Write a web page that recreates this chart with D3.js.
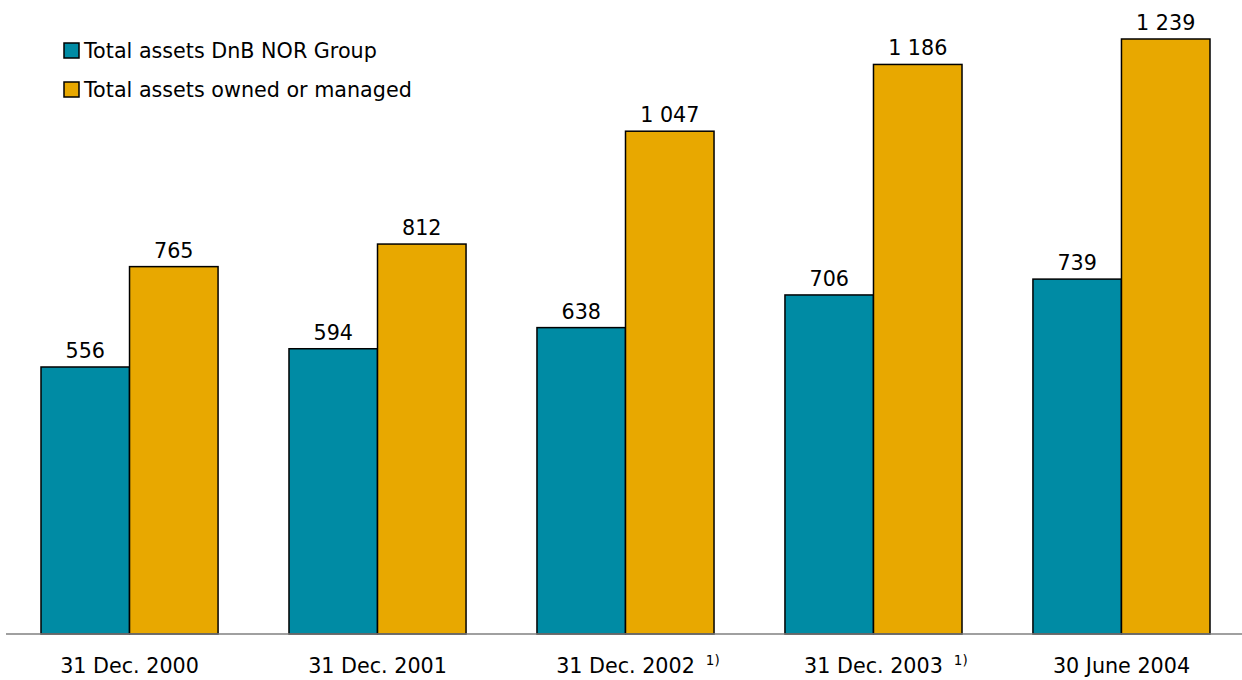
<!DOCTYPE html>
<html><head><meta charset="utf-8">
<script src="https://cdn.jsdelivr.net/npm/d3@7"></script>
<style>body{margin:0;background:#fff}svg{display:block}text{font-family:"DejaVu Sans",Verdana,sans-serif;fill:#000}</style>
</head><body>
<svg id="c" width="1242" height="680"></svg>
<script>
const categories = ["31 Dec. 2000","31 Dec. 2001","31 Dec. 2002","31 Dec. 2003","30 June 2004"];
const footnotes = ["","","1)","1)",""];
const seriesNames = ["Total assets DnB NOR Group","Total assets owned or managed"];
const groupAssets = [556,594,638,706,739];
const managedAssets = [765,812,1047,1186,1239];
const colors = ["#008BA4","#E8A800"];
const fmt = v => { const s = String(v); return s.length > 3 ? s.slice(0, s.length-3) + " " + s.slice(-3) : s; };

const svg = d3.select("#c");
const x = d3.scaleBand().domain(categories).range([41,1210]).paddingInner(0.286).paddingOuter(0);
const xs = d3.scaleBand().domain([0,1]).range([0, x.bandwidth()]);
const y = d3.scaleLinear().domain([0,1239]).range([634,39]);
const series = [groupAssets, managedAssets];
const FS = 20.7;

series.forEach((vals, si) => {
  const g = svg.append("g");
  g.selectAll("rect").data(vals).join("rect")
    .attr("x", (d,i) => x(categories[i]) + xs(si))
    .attr("y", d => y(d))
    .attr("width", xs.bandwidth())
    .attr("height", d => y(0) - y(d))
    .attr("fill", colors[si]).attr("stroke", "#000").attr("stroke-width", 1.5);
  g.selectAll("text").data(vals).join("text")
    .attr("x", (d,i) => x(categories[i]) + xs(si) + xs.bandwidth()/2)
    .attr("y", d => y(d) - 9)
    .attr("text-anchor","middle").attr("font-size", FS)
    .text(d => fmt(d));
});

// baseline
svg.append("line").attr("x1",6).attr("x2",1242).attr("y1",y(0)).attr("y2",y(0))
  .attr("stroke","#808080").attr("stroke-width",1.5);

// category labels
categories.forEach((c,i) => {
  const cx = x(c) + x.bandwidth()/2;
  const t = svg.append("text").attr("x", cx).attr("y", 673).attr("text-anchor","middle")
    .attr("font-size", FS).text(c);
  if (footnotes[i]) {
    const w = t.node().getComputedTextLength();
    svg.append("text").attr("x", cx + w/2 + 11).attr("y", 665).attr("font-size", 13.5).text(footnotes[i]);
  }
});

// legend
seriesNames.forEach((n,i) => {
  const ly = 43 + i*39;
  svg.append("rect").attr("x",64).attr("y",ly).attr("width",15).attr("height",15)
    .attr("fill",colors[i]).attr("stroke","#000").attr("stroke-width",1.5);
  svg.append("text").attr("x",84).attr("y",ly+15).attr("font-size",FS).text(n);
});
</script>
</body></html>
